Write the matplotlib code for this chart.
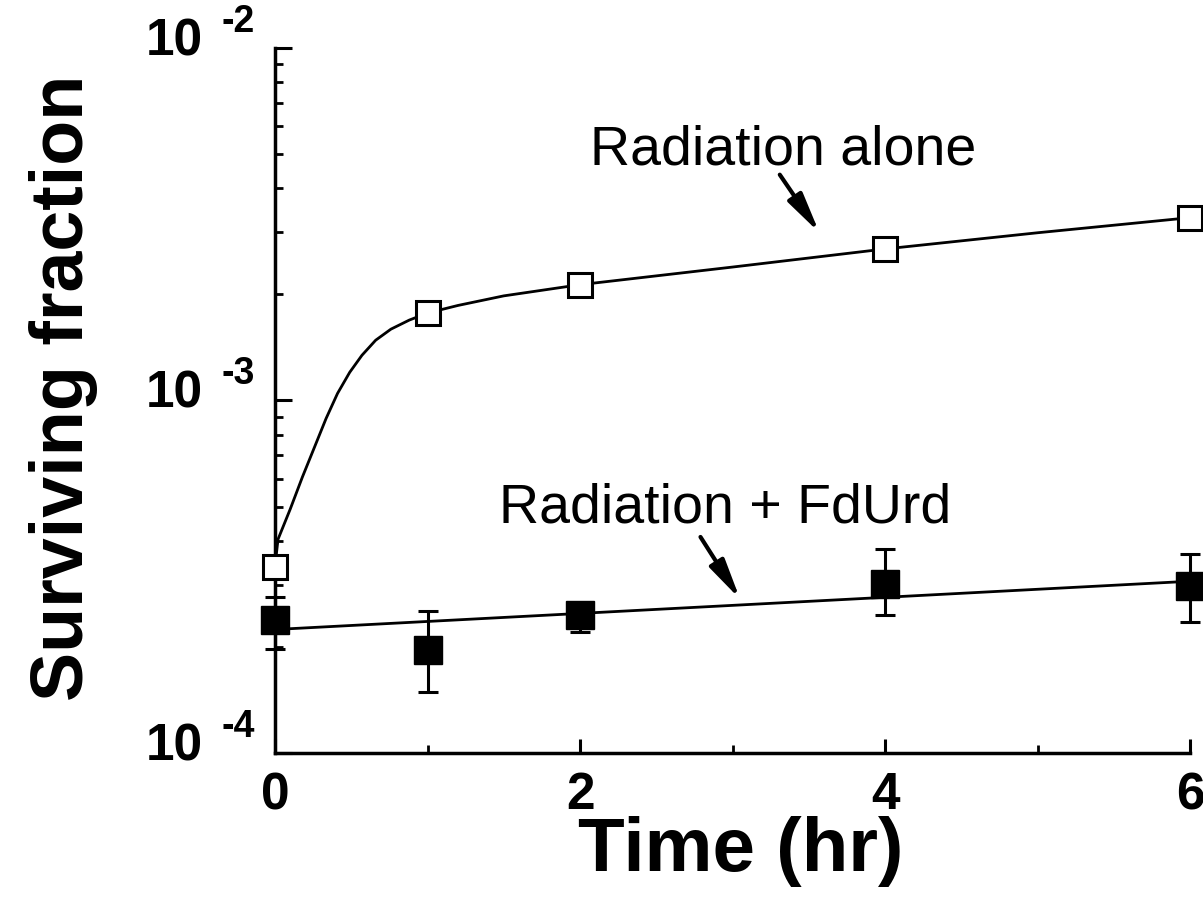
import numpy as np
import matplotlib
matplotlib.use('Agg')
import matplotlib.pyplot as plt
from matplotlib.ticker import LogLocator, NullFormatter, FixedLocator

plt.rcParams['font.family'] = ['Liberation Sans', 'DejaVu Sans']

# Measured points (hr, surviving fraction)
rad_t = [0, 1, 2, 4, 6]
rad_sf = [3.37e-4, 1.77e-3, 2.13e-3, 2.69e-3, 3.30e-3]

fdurd_t = [0, 1, 2, 4, 6]
fdurd_sf = [2.39e-4, 1.96e-4, 2.46e-4, 3.01e-4, 2.98e-4]
fdurd_lo = [1.97e-4, 1.49e-4, 2.20e-4, 2.47e-4, 2.35e-4]
fdurd_hi = [2.77e-4, 2.52e-4, 2.64e-4, 3.79e-4, 3.66e-4]

# Fitted curves
rad_fit_t = [0.0, 0.02, 0.10, 0.18, 0.26, 0.335, 0.41, 0.49, 0.57, 0.66, 0.76, 0.88,
             1.0, 1.2, 1.5, 2.0, 3.0, 4.0, 5.0, 6.0]
rad_fit_sf = [3.4e-4, 4.04e-4, 4.92e-4, 6.07e-4, 7.39e-4, 8.89e-4, 1.047e-3, 1.202e-3,
              1.343e-3, 1.482e-3, 1.593e-3, 1.690e-3, 1.77e-3, 1.86e-3, 1.98e-3,
              2.13e-3, 2.39e-3, 2.69e-3, 2.99e-3, 3.30e-3]
fdurd_fit_t = [0, 6]
fdurd_fit_sf = [2.24e-4, 3.07e-4]

xtick_vals = [0, 2, 4, 6]
xtick_labels = ['0', '2', '4', '6']
ytick_vals = [1e-4, 1e-3, 1e-2]
ytick_exps = ['-4', '-3', '-2']

fig = plt.figure(figsize=(12.03, 9.01), dpi=100)
ax = fig.add_axes([0.2286, 0.1643, 0.7606, 0.7825])

ax.set_yscale('log')
ax.set_xlim(0, 6)
ax.set_ylim(1e-4, 1e-2)

# fitted lines
ax.plot(rad_fit_t, rad_fit_sf, color='black', lw=2.0, zorder=2)
ax.plot(fdurd_fit_t, fdurd_fit_sf, color='black', lw=2.0, zorder=2)

# error bars + filled squares
sf = np.array(fdurd_sf)
yerr = [sf - np.array(fdurd_lo), np.array(fdurd_hi) - sf]
ax.errorbar(fdurd_t, fdurd_sf, yerr=yerr, fmt='s', ms=20, mfc='black', mec='black',
            ecolor='black', elinewidth=2.2, capsize=7, capthick=2.2,
            clip_on=False, zorder=3)

# open squares
ax.plot(rad_t, rad_sf, 's', ms=17, mfc='white', mec='black', mew=2.2,
        clip_on=False, zorder=4)

# annotations with arrows
arrow_style = dict(arrowstyle='-|>,head_length=2.4,head_width=0.5',
                   lw=3, color='black', shrinkA=0, shrinkB=0)
ax.text(3.33, 4.68e-3, 'Radiation alone', fontsize=40, ha='center', va='baseline')
ax.annotate('', xy=(3.57, 2.99e-3), xytext=(3.31, 4.37e-3), arrowprops=arrow_style)
ax.text(2.95, 4.52e-4, 'Radiation + FdUrd', fontsize=40, ha='center', va='baseline')
ax.annotate('', xy=(3.05, 2.73e-4), xytext=(2.79, 4.10e-4), arrowprops=arrow_style)

# axes styling
for side in ['top', 'right']:
    ax.spines[side].set_visible(False)
for side in ['left', 'bottom']:
    ax.spines[side].set_linewidth(2.5)

ax.set_xticks(xtick_vals)
ax.set_xticklabels(xtick_labels, fontsize=37, fontweight='bold')
ax.xaxis.set_minor_locator(FixedLocator([1, 3, 5]))
ax.tick_params(axis='x', which='major', direction='in', length=10, width=2.2, pad=13)
ax.tick_params(axis='x', which='minor', direction='in', length=6, width=2.0)

ax.yaxis.set_major_locator(FixedLocator(ytick_vals))
ax.yaxis.set_minor_locator(LogLocator(base=10, subs=np.arange(2, 10)))
ax.yaxis.set_major_formatter(NullFormatter())
ax.yaxis.set_minor_formatter(NullFormatter())
ax.tick_params(axis='y', which='major', direction='in', length=12, width=2.2)
ax.tick_params(axis='y', which='minor', direction='in', length=6, width=2.0)

# y tick labels drawn as "10" with a raised exponent
ytr = ax.get_yaxis_transform()
for v, e in zip(ytick_vals, ytick_exps):
    ax.annotate('10', xy=(0, v), xycoords=ytr, xytext=(-72, 6),
                textcoords='offset pixels', ha='right', va='center',
                fontsize=37, fontweight='bold', annotation_clip=False)
    ax.annotate(e, xy=(0, v), xycoords=ytr, xytext=(-20, 26),
                textcoords='offset pixels', ha='right', va='center',
                fontsize=27, fontweight='bold', annotation_clip=False)

ax.set_xlabel('Time (hr)', fontsize=55, fontweight='bold')
ax.xaxis.set_label_coords(0.509, -0.09)
ax.set_ylabel('Surviving fraction', fontsize=53, fontweight='bold')
ax.yaxis.set_label_coords(-0.193, 0.518)

fig.savefig('out.png', dpi=100)
